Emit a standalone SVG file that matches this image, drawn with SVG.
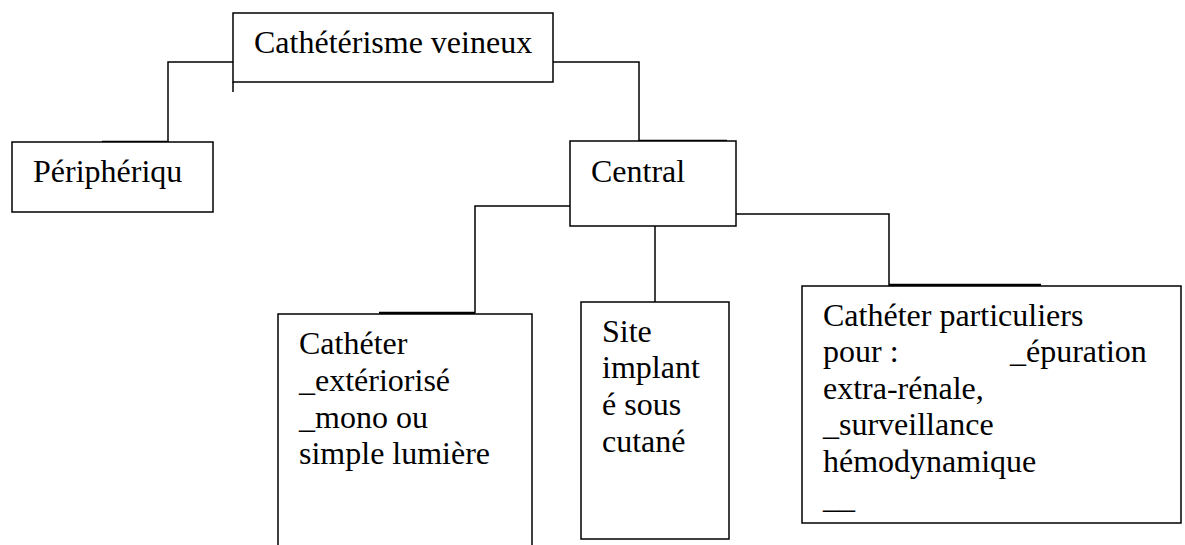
<svg xmlns="http://www.w3.org/2000/svg" width="1185" height="545" viewBox="0 0 1185 545">
<style>
.box{fill:#fff;stroke:#000;stroke-width:1.5}
.ln{fill:none;stroke:#000;stroke-width:1.5}
.tk{fill:none;stroke:#000;stroke-width:2.5}
text{font-family:"Liberation Serif","Times New Roman",serif;font-size:32px;fill:#000}
</style>
<rect width="1185" height="545" fill="#fff"/>
<g id="connectors">
<path class="ln" d="M233 62H168V142"/>
<path class="ln" d="M233 82V92"/>
<path class="tk" d="M102 142H168"/>
<path class="ln" d="M553 62H639V141"/>
<path class="tk" d="M639 141H727"/>
<path class="ln" d="M570 206H475V313"/>
<path class="tk" d="M379 313H475"/>
<path class="ln" d="M655 226V302"/>
<path class="ln" d="M736 214H889V286"/>
<path class="tk" d="M889 285H1041"/>
</g>
<g id="n-root">
<rect class="box" x="233" y="13" width="320" height="69"/>
<text x="254" y="53">Cathétérisme veineux</text>
</g>
<g id="n-peripherique">
<rect class="box" x="12" y="142" width="201" height="70"/>
<text x="33" y="182">Périphériqu</text>
</g>
<g id="n-central">
<rect class="box" x="570" y="141" width="166" height="85"/>
<text x="591" y="182">Central</text>
</g>
<g id="n-catheter">
<path class="box" d="M278 550V314H532V550"/>
<text x="299"><tspan x="299" y="354">Cathéter</tspan><tspan x="299" y="391">_extériorisé</tspan><tspan x="299" y="428">_mono ou</tspan><tspan x="299" y="464">simple lumière</tspan></text>
</g>
<g id="n-site">
<rect class="box" x="581" y="302" width="148" height="237"/>
<text><tspan x="602" y="342">Site</tspan><tspan x="602" y="378">implant</tspan><tspan x="602" y="415">é sous</tspan><tspan x="602" y="452">cutané</tspan></text>
</g>
<g id="n-particuliers">
<rect class="box" x="802" y="286" width="379" height="237"/>
<text><tspan x="823" y="326">Cathéter particuliers</tspan><tspan x="823" y="362">pour :</tspan><tspan x="1010" y="362">_épuration</tspan><tspan x="823" y="399">extra-rénale,</tspan><tspan x="823" y="435">_surveillance</tspan><tspan x="823" y="472">hémodynamique</tspan><tspan x="823" y="508">__</tspan></text>
</g>
</svg>
